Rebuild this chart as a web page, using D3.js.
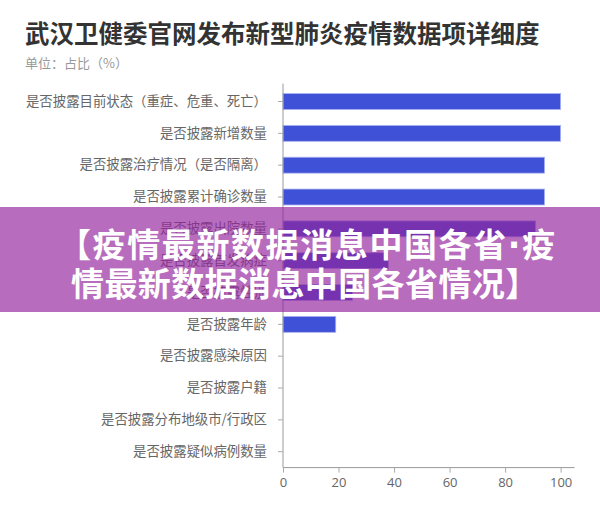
<!DOCTYPE html>
<html><head><meta charset="utf-8">
<script src="https://cdn.jsdelivr.net/npm/d3@7"></script>
<style>
html,body{margin:0;padding:0;background:#fff;}
svg{display:block;font-family:"Noto Sans CJK SC","Noto Sans",sans-serif;}
</style></head>
<body>
<svg id="chart" width="600" height="516"></svg>
<script>
const title = "武汉卫健委官网发布新型肺炎疫情数据项详细度";
const subtitle = "单位：占比（%）";
const categories = [
  "是否披露目前状态（重症、危重、死亡）",
  "是否披露新增数量",
  "是否披露治疗情况（是否隔离）",
  "是否披露累计确诊数量",
  "是否披露出院数量",
  "是否披露首发病症",
  "是否披露性别",
  "是否披露年龄",
  "是否披露感染原因",
  "是否披露户籍",
  "是否披露分布地级市/行政区",
  "是否披露疑似病例数量"
];
const values = [100, 100, 94.2, 94.2, 91, 38, 25, 19, 0, 0, 0, 0];
const xTicks = [0, 20, 40, 60, 80, 100];
const bannerLines = [["【疫情最新数据消息中国各省", "·", "疫"], ["情最新数据消息中国各省情况】"]];

const svg = d3.select("#chart");
const x = d3.scaleLinear().domain([0, 105]).range([283, 574.5]);
const y = d3.scaleBand().domain(categories).range([85.6, 467.6]).paddingInner(0.5).paddingOuter(0.25);

svg.append("text").attr("x", 25).attr("y", 43).attr("font-size", 24.5).attr("font-weight", "bold")
  .attr("fill", "#333").text(title);
svg.append("text").attr("x", 25).attr("y", 68).attr("font-size", 13).attr("fill", "#999").text(subtitle);

// bars
svg.append("g").selectAll("rect").data(values.map((v, i) => ({c: categories[i], v})).filter(d => d.v > 0))
  .join("rect")
  .attr("x", x(0)).attr("y", d => y(d.c))
  .attr("width", d => x(d.v) - x(0)).attr("height", y.bandwidth())
  .attr("fill", "#3f51d6").attr("stroke", "#a9b2f0").attr("stroke-width", 0.8);

// y axis
const yAxis = svg.append("g").attr("transform", `translate(${x(0)},0)`)
  .call(d3.axisLeft(y).tickSize(5).tickPadding(11));
yAxis.select(".domain").attr("stroke", "#999").attr("d", `M0,${y.range()[0] - 2}V${y.range()[1]}`);
yAxis.selectAll(".tick line").attr("stroke", "#aaa");
yAxis.selectAll(".tick text").attr("fill", "#666").attr("font-size", 13.4)
  .attr("font-family", '"Noto Sans CJK SC",sans-serif');

// x axis
const xAxis = svg.append("g").attr("transform", `translate(0,${y.range()[1]})`)
  .call(d3.axisBottom(x).tickValues(xTicks).tickSize(5).tickPadding(5));
xAxis.select(".domain").attr("stroke", "#999").attr("d", `M${x(0)},0H${x(105)}`);
xAxis.selectAll(".tick line").attr("stroke", "#aaa");
xAxis.selectAll(".tick text").attr("fill", "#666").attr("font-size", 13)
  .attr("font-family", '"Open Sans","Noto Sans",sans-serif');

// overlay banner
svg.append("rect").attr("x", 0).attr("y", 207).attr("width", 600).attr("height", 105)
  .attr("fill", "rgb(148,36,156)").attr("fill-opacity", 0.67);
const bt = svg.append("g").selectAll("text").data(bannerLines).join("text")
  .attr("x", (d, i) => i === 0 ? 58 : 71).attr("y", (d, i) => 257 + i * 39)
  .attr("letter-spacing", (d, i) => i === 0 ? 1.6 : 0.4)
  .attr("font-size", 33).attr("font-weight", "bold")
  .attr("fill", "#fff")
  .attr("font-family", '"Noto Sans CJK SC",sans-serif');
bt.selectAll("tspan").data(d => d).join("tspan")
  .attr("font-family", s => s === "·" ? '"DejaVu Sans",sans-serif' : '"Noto Sans CJK SC",sans-serif')
  .text(s => s);
</script>
</body></html>
